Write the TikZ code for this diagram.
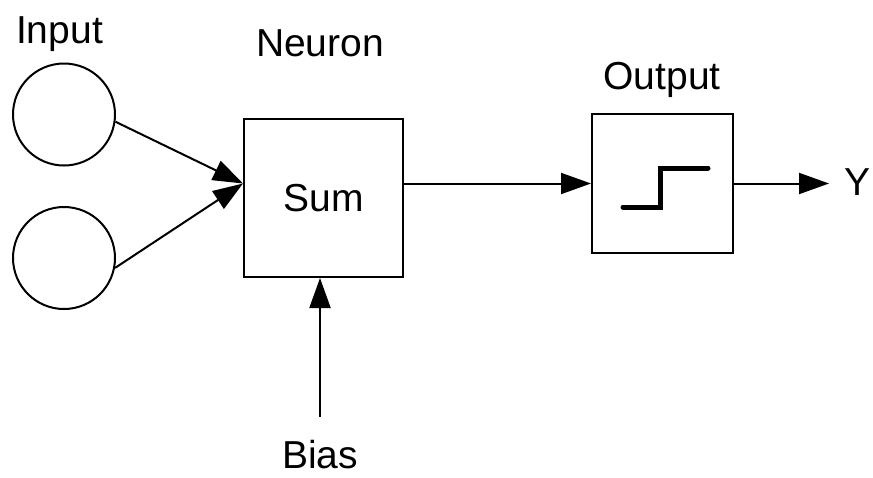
\documentclass[tikz,border=0pt]{standalone}
\usepackage{fontspec}
\setmainfont{Liberation Sans}
\usepackage{tikz}
\usetikzlibrary{positioning, arrows.meta, shapes.geometric}

\begin{document}
\begin{tikzpicture}[
    x=1pt, y=-1pt,
    line width=2pt,
    txt/.style={font=\fontsize{39}{47}\selectfont, inner sep=0pt},
    inputnode/.style={circle, draw, minimum size=102pt, inner sep=0pt},
    block/.style={rectangle, draw, inner sep=0pt},
    link/.style={-{Triangle[length=30pt, width=21pt]}}
]
\useasboundingbox (0,0) rectangle (873,477);

% Inputs
\node[inputnode] (in1) at (64,114.5) {};
\node[inputnode] (in2) at (64,258) {};
\node[txt, anchor=base] (inlabel) at (59.5,43) {Input};

% Neuron
\node[block, txt, minimum width=159pt, minimum height=158pt] (sum) at (323.5,198) {Sum};
\node[txt, anchor=base] (neuronlabel) at (320,56) {Neuron};

% Output
\node[block, minimum width=141pt, minimum height=139pt] (out) at (662.5,183.5) {};
\node[txt, anchor=base] (outlabel) at (662,89) {Output};
\draw[line width=5pt, line cap=round] (623,207) -- (660,207) -- (660,168) -- (708,168);
\node[txt, anchor=base east] (ylabel) at (872,195) {Y};
\node[txt, anchor=base] (biaslabel) at (320,468) {Bias};

% Edges
\coordinate (sumin) at (sum.west |- out.west);
\coordinate (yend) at (829,183.5);
\coordinate (biasend) at (320,417);
\draw[link] (in1.-8) -- (sumin);
\draw[link] (in2.-11) -- (sumin);
\draw[link] (sum.east |- out.west) -- (out.west);
\draw[link] (out.east) -- (yend);
\draw[link] (biasend) -- (biasend |- sum.south);

\end{tikzpicture}
\end{document}
